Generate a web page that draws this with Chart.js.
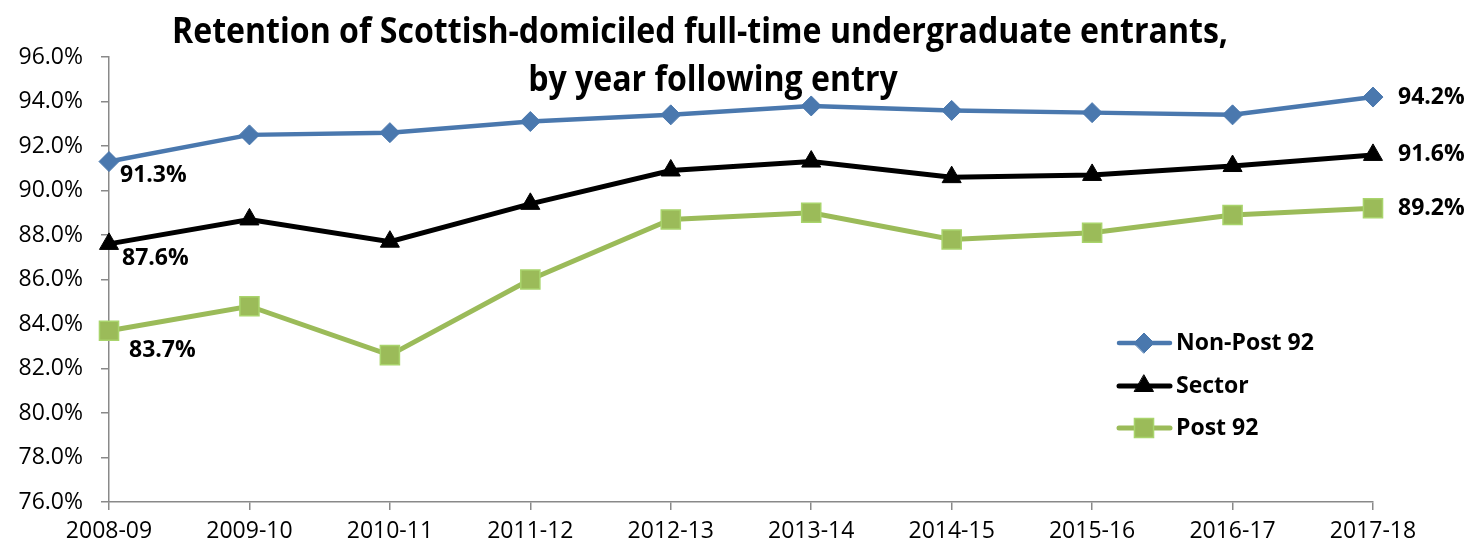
<!DOCTYPE html>
<html>
<head>
<meta charset="utf-8">
<script src="https://cdn.jsdelivr.net/npm/chart.js@4.4.0/dist/chart.umd.min.js"></script>
<style>
  html, body { margin: 0; padding: 0; background: #fff; }
  #wrap { width: 1472px; height: 549px; }
</style>
</head>
<body>
<div id="wrap"><canvas id="myChart"></canvas></div>
<script>
var years = ['2008-09', '2009-10', '2010-11', '2011-12', '2012-13', '2013-14', '2014-15', '2015-16', '2016-17', '2017-18'];
var nonPost92 = [91.3, 92.5, 92.6, 93.1, 93.4, 93.8, 93.6, 93.5, 93.4, 94.2];
var sector = [87.6, 88.7, 87.7, 89.4, 90.9, 91.3, 90.6, 90.7, 91.1, 91.6];
var post92 = [83.7, 84.8, 82.6, 86.0, 88.7, 89.0, 87.8, 88.1, 88.9, 89.2];
var yTicks = [76, 78, 80, 82, 84, 86, 88, 90, 92, 94, 96];
var titleLines = ['Retention of Scottish-domiciled full-time undergraduate entrants,', 'by year following entry'];

var blue = '#4A78AE';
var green = '#9BBB59';
var axisGrey = '#898989';

// title drawn over the plot, squeezed like the narrow original font
var titlePlugin = {
    id: 'titlePlugin',
    afterDraw: function (chart) {
        var ctx = chart.ctx;
        ctx.save();
        ctx.font = 'bold 36px "Open Sans"';
        ctx.fillStyle = '#000';
        ctx.textAlign = 'center';
        ctx.textBaseline = 'alphabetic';
        var w = ctx.measureText(titleLines[0]).width;
        var sx = 1056 / w;
        var ys = [43, 91];
        var xs = [700, 713];
        for (var i = 0; i < titleLines.length; i++) {
            ctx.save();
            ctx.translate(xs[i], ys[i]);
            ctx.scale(sx, 1);
            ctx.fillText(titleLines[i], 0, 0);
            ctx.restore();
        }
        ctx.restore();
    }
};

// first and last value labels
var endLabels = {
    id: 'endLabels',
    afterDatasetsDraw: function (chart) {
        var ctx = chart.ctx;
        ctx.save();
        ctx.font = 'bold 23px "Open Sans"';
        ctx.fillStyle = '#000';
        ctx.textBaseline = 'middle';
        ctx.textAlign = 'left';
        var firstOffsets = [[11, 14], [13, 15], [20, 20]];
        chart.data.datasets.forEach(function (ds, i) {
            var meta = chart.getDatasetMeta(i);
            var p0 = meta.data[0];
            var pN = meta.data[meta.data.length - 1];
            var v0 = ds.data[0], vN = ds.data[ds.data.length - 1];
            ctx.fillText(v0.toFixed(1) + '%', p0.x + firstOffsets[i][0], p0.y + firstOffsets[i][1]);
            ctx.fillText(vN.toFixed(1) + '%', pN.x + 25, pN.y);
        });
        ctx.restore();
    }
};

// legend inside the plot area
var innerLegend = {
    id: 'innerLegend',
    afterDraw: function (chart) {
        var ctx = chart.ctx;
        var rows = [343, 386, 428];
        ctx.save();
        chart.data.datasets.forEach(function (ds, i) {
            var y = rows[i];
            ctx.strokeStyle = ds.borderColor;
            ctx.lineWidth = ds.borderWidth;
            ctx.lineCap = 'round';
            ctx.beginPath();
            ctx.moveTo(1119, y);
            ctx.lineTo(1170, y);
            ctx.stroke();
            ctx.fillStyle = ds.pointBackgroundColor;
            ctx.strokeStyle = ds.pointBorderColor;
            ctx.lineWidth = ds.pointBorderWidth;
            Chart.helpers.drawPoint(ctx, {
                pointStyle: ds.pointStyle,
                radius: ds.pointRadius,
                borderWidth: ds.pointBorderWidth,
                rotation: 0
            }, 1144, y);
            ctx.font = 'bold 23px "Open Sans"';
            ctx.fillStyle = '#000';
            ctx.textAlign = 'left';
            ctx.textBaseline = 'middle';
            ctx.fillText(ds.label, 1176, y);
        });
        ctx.restore();
    }
};

var ctx = document.getElementById('myChart');

var lineChart = new Chart(ctx, {
    type: 'line',
    data: {
        labels: years,
        datasets: [
            {
                label: 'Non-Post 92',
                data: nonPost92,
                borderColor: blue,
                backgroundColor: blue,
                borderWidth: 4.5,
                pointStyle: 'rectRot',
                pointRadius: 10,
                pointBorderWidth: 1,
                pointBackgroundColor: blue,
                pointBorderColor: blue,
                clip: false
            },
            {
                label: 'Sector',
                data: sector,
                borderColor: '#000',
                backgroundColor: '#000',
                borderWidth: 5,
                pointStyle: 'triangle',
                pointRadius: 11,
                pointBorderWidth: 1,
                pointBackgroundColor: '#000',
                pointBorderColor: '#000',
                clip: false
            },
            {
                label: 'Post 92',
                data: post92,
                borderColor: green,
                backgroundColor: green,
                borderWidth: 5,
                pointStyle: 'rect',
                pointRadius: 13.5,
                pointBorderWidth: 1.5,
                pointBackgroundColor: green,
                pointBorderColor: '#A9D46C',
                clip: false
            }
        ]
    },
    options: {
        responsive: true,
        maintainAspectRatio: false,
        animation: false,
        devicePixelRatio: 1,
        layout: { padding: { left: 0, right: 99, top: 57, bottom: 0 } },
        plugins: {
            legend: { display: false },
            title: { display: false },
            tooltip: { enabled: false }
        },
        scales: {
            x: {
                offset: false,
                afterFit: function (scale) { scale.height = 47; },
                grid: { drawOnChartArea: false, drawTicks: true, tickLength: 8, color: axisGrey, lineWidth: 1.5 },
                border: { display: true, color: axisGrey, width: 1.5 },
                ticks: {
                    color: '#000',
                    padding: 8,
                    maxRotation: 0,
                    autoSkip: false,
                    font: { family: 'Open Sans', size: 23 }
                }
            },
            y: {
                min: 76,
                max: 96,
                afterFit: function (scale) { scale.width = 109; },
                afterBuildTicks: function (scale) {
                    scale.ticks = yTicks.map(function (v) { return { value: v }; });
                },
                grid: { drawOnChartArea: false, drawTicks: true, tickLength: 8, color: axisGrey, lineWidth: 1.5 },
                border: { display: true, color: axisGrey, width: 1.5 },
                ticks: {
                    color: '#000',
                    padding: 18,
                    font: { family: 'Open Sans', size: 23 },
                    callback: function (v) { return Number(v).toFixed(1) + '%'; }
                }
            }
        }
    },
    plugins: [titlePlugin, endLabels, innerLegend]
});
</script>
</body>
</html>
